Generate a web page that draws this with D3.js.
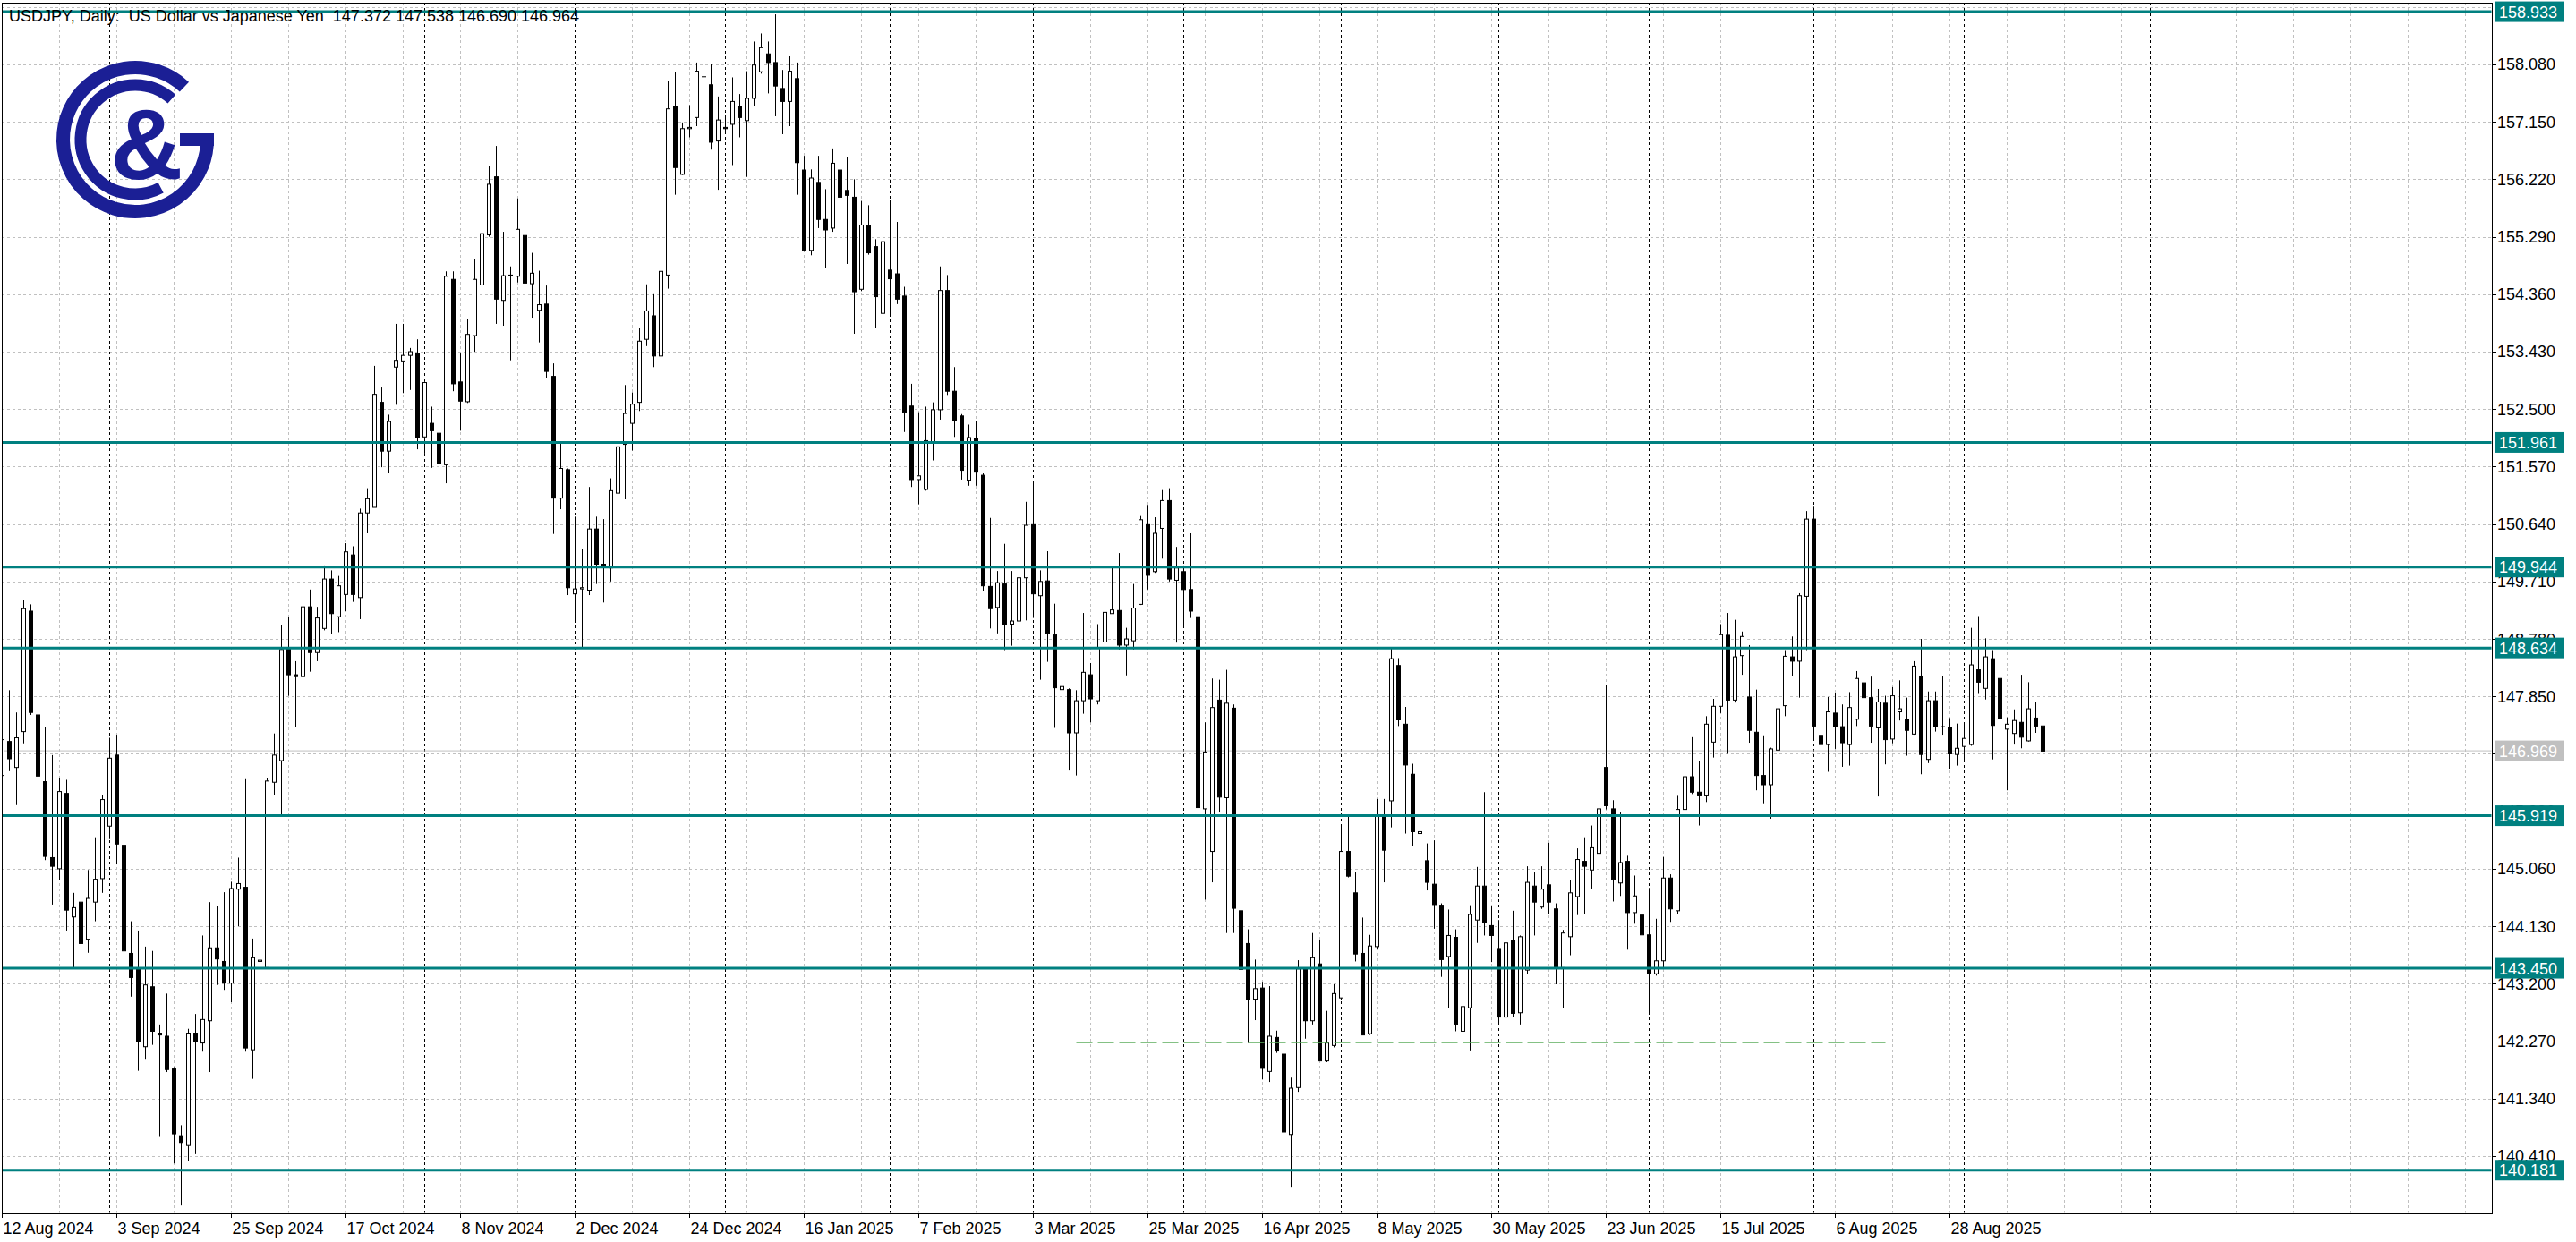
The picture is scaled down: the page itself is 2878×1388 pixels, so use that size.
<!DOCTYPE html>
<html><head><meta charset="utf-8">
<script src="https://cdn.jsdelivr.net/npm/d3@7"></script>
<style>body{margin:0;background:#fff;overflow:hidden}svg{display:block}</style>
</head><body>
<svg id="c" width="2878" height="1388"></svg>
<script>
// ---------- DATA ----------
const opens = [146.57,147.12,146.70,147.28,149.23,147.55,146.47,145.24,145.06,146.28,144.28,144.52,143.92,144.52,144.90,145.75,146.90,145.44,143.69,143.45,142.18,143.15,142.40,142.35,141.82,140.74,140.58,142.40,142.24,142.60,143.78,143.56,143.21,144.73,144.76,142.13,143.56,143.46,146.46,146.81,148.64,148.20,148.17,149.30,148.56,148.95,149.75,149.14,149.50,150.14,149.45,150.82,150.91,152.61,151.82,153.18,153.28,153.37,153.40,152.05,152.27,152.11,151.60,154.60,152.94,152.62,153.69,154.51,155.32,156.26,154.26,154.66,154.65,155.31,154.53,154.10,154.20,153.03,151.06,151.52,149.51,149.59,149.57,150.56,149.99,149.93,151.14,151.93,152.27,152.61,153.63,154.01,153.36,154.67,157.40,156.30,157.04,157.22,157.88,157.75,156.84,157.06,157.11,157.40,157.17,157.53,157.96,158.25,158.11,157.69,157.48,157.85,156.37,155.07,156.17,155.57,155.43,156.37,156.04,155.93,154.44,155.47,155.13,154.05,154.75,154.69,154.33,152.55,151.36,151.20,151.97,152.49,154.42,152.79,152.39,151.35,152.03,151.43,149.63,149.29,149.67,149.02,149.07,149.77,150.63,149.48,149.72,148.85,147.96,147.96,147.26,147.78,148.20,147.78,148.73,149.19,149.24,148.68,148.75,149.34,150.63,149.87,150.57,151.02,149.73,149.87,149.58,149.14,146.03,145.34,147.79,146.21,147.66,144.38,143.85,142.95,143.13,141.78,142.33,142.06,140.76,141.52,143.44,142.60,143.52,141.95,142.20,142.97,145.34,144.67,143.69,142.39,143.80,145.92,146.16,148.35,147.40,146.59,145.63,145.19,144.81,144.47,143.64,143.95,142.43,142.81,144.23,144.78,144.14,143.77,142.66,143.90,142.73,143.42,144.78,144.44,144.80,144.41,143.46,143.96,144.61,145.18,145.04,145.31,146.70,146.03,144.83,145.18,144.35,144.31,143.99,143.36,143.57,144.91,144.38,146.02,146.55,146.30,146.24,147.11,147.69,148.84,147.79,148.51,147.84,147.27,146.57,146.42,146.98,147.70,148.49,148.42,149.47,150.72,147.22,147.07,147.58,147.36,147.07,147.48,148.07,147.83,147.34,147.74,147.16,147.60,147.48,147.24,148.18,146.83,147.78,147.36,147.34,146.91,147.04,147.07,148.28,147.98,148.46,148.14,147.32,147.25,147.43,147.13,147.50,147.372];
const highs = [147.30,147.95,147.59,149.41,149.34,148.06,147.35,146.90,146.53,146.50,144.67,145.18,145.04,145.57,146.26,147.18,147.23,145.57,144.21,144.06,143.80,143.73,142.54,143.04,141.85,140.91,142.47,142.71,143.98,144.52,144.46,144.68,144.85,145.24,146.51,143.93,144.56,146.53,147.25,149.00,149.14,148.42,149.36,149.58,149.30,149.97,149.89,149.80,150.33,150.28,150.89,151.22,153.20,152.85,152.41,153.88,153.88,153.49,153.63,152.95,152.54,152.55,154.73,154.73,153.40,153.96,154.93,155.62,156.44,156.76,155.37,154.81,155.91,155.40,155.03,154.74,154.50,153.24,151.96,151.54,150.76,150.24,151.24,150.76,150.72,151.38,152.20,152.89,152.77,153.82,154.52,154.36,154.87,157.81,157.95,157.14,157.42,158.11,158.11,158.09,157.56,157.22,157.87,157.60,157.97,158.45,158.58,158.45,158.89,157.99,158.21,158.11,156.60,156.38,156.60,156.06,156.72,156.78,156.58,156.22,155.87,155.80,155.25,155.25,155.89,155.53,154.48,152.91,152.45,152.54,152.61,154.81,154.67,153.18,152.42,152.25,152.31,151.46,150.74,149.88,150.32,149.88,150.17,151.00,151.34,149.89,150.20,149.35,148.20,147.98,147.95,149.20,148.39,149.02,149.30,149.94,150.17,148.96,149.67,150.77,150.95,150.75,151.19,151.22,150.27,149.97,150.49,149.29,147.43,148.14,148.12,148.28,147.72,144.59,144.08,143.59,143.23,143.16,142.44,142.11,141.68,143.58,143.44,144.02,143.90,142.76,143.19,145.76,145.90,145.00,144.27,143.99,146.19,146.19,148.64,148.47,147.68,146.76,146.10,145.47,145.52,144.50,144.40,144.08,143.35,144.47,145.09,146.30,144.46,144.23,144.12,144.38,143.98,145.10,145.00,145.10,145.48,144.50,144.07,144.88,145.39,145.57,145.76,146.21,148.04,146.17,145.97,145.27,144.95,144.77,144.75,144.25,145.25,144.97,146.24,146.99,147.19,146.80,147.53,147.81,149.02,149.20,149.09,148.90,148.68,147.96,147.22,147.02,147.96,148.60,148.82,149.52,150.85,150.92,148.10,147.84,147.90,147.72,147.92,148.26,148.53,148.17,147.97,147.86,148.00,148.11,147.83,148.42,148.78,147.93,147.93,148.18,147.50,147.41,147.43,148.96,149.15,148.79,148.60,148.43,147.51,147.64,148.20,148.08,147.76,147.538];
const lows = [146.40,146.64,146.09,147.09,147.55,145.23,145.20,144.48,144.87,144.06,143.45,143.84,143.70,144.21,144.67,145.54,145.13,143.70,142.99,141.79,141.97,142.21,140.72,141.77,140.29,139.61,140.33,140.44,142.10,141.77,143.18,143.10,142.90,144.13,142.10,141.66,142.97,143.46,146.26,145.92,147.86,147.36,148.08,148.25,148.42,148.92,148.86,148.89,149.23,149.38,149.10,150.49,150.91,151.56,151.46,152.57,152.76,152.81,151.85,151.78,151.55,151.35,151.30,152.79,152.15,152.60,153.43,154.37,155.29,153.88,153.85,153.29,154.55,153.92,153.98,153.58,153.01,150.48,150.88,149.49,149.05,148.65,149.49,149.67,149.37,149.71,150.92,151.04,151.83,152.47,153.52,153.18,153.32,154.45,155.97,156.29,156.90,157.08,157.38,156.70,156.05,156.99,156.45,156.90,156.26,157.40,157.93,157.61,157.24,156.95,157.08,155.97,155.05,154.99,155.43,154.79,155.37,155.77,154.85,153.72,154.41,155.00,153.82,153.92,154.01,154.20,152.13,151.24,150.96,151.18,151.67,152.33,152.73,152.05,151.36,151.26,151.26,149.56,148.95,148.87,148.60,148.67,148.75,149.08,149.12,148.12,148.41,147.34,146.96,146.65,146.57,147.57,147.43,147.72,148.26,149.19,148.61,148.19,148.61,149.33,149.58,149.85,150.08,149.71,148.72,148.97,149.12,145.19,144.56,144.84,145.97,144.02,144.02,142.06,142.24,142.61,141.65,141.61,142.08,140.47,139.90,141.45,142.31,142.54,141.95,141.93,142.17,142.93,144.92,143.56,142.37,142.37,143.77,144.84,145.73,147.37,145.63,145.43,144.96,144.71,144.09,143.31,142.81,142.43,142.25,142.12,143.86,143.98,143.55,142.54,142.39,142.66,142.54,143.35,143.98,144.41,144.32,143.19,142.80,143.66,144.31,144.33,144.74,145.13,146.02,144.53,144.62,143.75,144.17,143.83,142.70,143.33,143.46,144.20,144.32,145.87,146.27,145.76,146.14,146.86,147.58,146.92,147.75,148.20,147.10,146.33,146.12,145.87,146.83,147.53,148.18,147.83,148.60,147.16,146.87,146.63,147.00,146.71,146.73,147.37,147.76,147.10,146.23,146.75,147.09,147.46,146.89,147.23,146.59,146.77,147.28,147.23,146.68,146.73,146.80,147.05,147.89,147.80,146.83,147.36,146.33,147.07,147.01,147.12,147.26,146.690];
const closes = [147.15,146.84,147.18,149.27,147.59,146.56,145.26,145.10,146.31,144.39,144.43,143.85,144.58,144.89,146.18,146.85,145.46,143.73,143.30,142.27,143.18,142.43,142.37,141.81,140.77,140.63,142.40,142.27,142.62,143.78,143.60,143.21,144.74,144.82,142.16,143.62,143.58,146.48,146.90,148.61,148.20,148.17,149.30,148.56,149.12,149.75,149.19,149.64,150.19,149.50,150.82,151.05,152.74,151.82,152.30,153.29,153.37,153.43,152.04,152.93,152.15,151.62,154.65,152.91,152.63,153.71,154.60,155.34,156.14,154.28,154.66,154.67,155.41,154.54,154.70,154.19,153.11,151.06,151.54,149.61,149.59,149.61,150.56,149.99,149.97,151.18,151.89,152.43,152.58,153.60,154.09,153.36,154.73,157.36,156.41,157.04,157.06,157.97,157.88,156.82,157.18,157.04,157.48,157.22,157.53,158.07,158.35,158.11,157.73,157.48,157.97,156.49,155.07,156.24,155.57,155.40,156.48,155.93,155.96,154.40,155.48,155.03,154.32,155.21,154.61,154.28,152.45,151.36,151.42,151.99,152.49,154.42,152.79,152.31,151.51,152.04,151.48,149.64,149.27,149.69,149.02,149.07,149.77,150.62,149.51,149.71,148.87,147.99,148.01,147.26,147.78,148.24,147.81,148.64,149.21,149.25,148.68,148.78,149.28,150.71,149.81,150.49,151.02,149.75,149.93,149.58,149.23,146.05,146.95,147.67,146.22,147.74,144.42,143.43,142.94,143.12,141.83,142.35,142.11,140.80,141.51,143.44,142.60,143.62,141.95,142.24,143.04,145.34,144.94,143.68,142.37,143.81,145.93,145.36,148.46,147.47,146.74,145.66,145.66,144.84,144.48,143.59,143.98,142.54,142.83,144.32,144.78,144.19,143.98,142.66,143.86,142.72,143.96,144.84,144.52,144.73,144.52,143.46,144.02,144.67,145.21,145.10,145.40,146.03,146.08,144.89,145.16,144.35,144.62,143.99,143.37,143.57,144.91,144.41,146.02,146.55,146.30,146.24,147.40,147.69,148.85,147.79,148.49,148.82,147.30,146.57,146.42,147.00,147.65,148.50,148.42,149.48,150.72,147.37,147.07,147.60,147.36,147.10,147.67,148.14,147.83,147.37,147.76,147.15,147.86,147.65,147.30,148.34,146.91,147.78,147.36,147.36,146.92,147.01,147.17,148.36,148.08,148.49,147.38,147.49,147.40,147.46,147.19,147.65,147.37,146.964];

const dateLabels = ["12 Aug 2024","3 Sep 2024","25 Sep 2024","17 Oct 2024","8 Nov 2024","2 Dec 2024","24 Dec 2024","16 Jan 2025","7 Feb 2025","3 Mar 2025","25 Mar 2025","16 Apr 2025","8 May 2025","30 May 2025","23 Jun 2025","15 Jul 2025","6 Aug 2025","28 Aug 2025"];
const monthStartBars = [15,36,59,80,101,124,144,165,187,209,230,253,274,300];
const yTickLabels = ["140.410","141.340","142.270","143.200","144.130","145.060","145.990","146.920","147.850","148.780","149.710","150.640","151.570","152.500","153.430","154.360","155.290","156.220","157.150","158.080"];
const topGridLevel = 159.010;
const levels = [158.933,151.961,149.944,148.634,145.919,143.450,140.181];
const lastPrice = 146.969;
const supportPrice = 142.25, supportFrom = 150, supportTo = 263;
const header = "USDJPY, Daily:  US Dollar vs Japanese Yen  147.372 147.538 146.690 146.964";

// ---------- LAYOUT ----------
const L = 2, T = 3, R = 2784, B = 1356;
const TEAL = "#008080", GRID = "#c0c0c0", BLUE = "#1b1f95";
const FONT = "'Liberation Sans', Arial, sans-serif";
const svg = d3.select("#c");
svg.append("rect").attr("width",2878).attr("height",1388).attr("fill","#fff");

const x = d3.scaleLinear().domain([0, 285]).range([2.5, 2282.5]);
const y = d3.scaleLinear().domain([139.482, 159.079]).range([B, T]);
const nBars = opens.length;

svg.append("clipPath").attr("id","plot").append("rect")
  .attr("x",L+0.5).attr("y",T+0.5).attr("width",R-L-1).attr("height",B-T-1);
const plot = svg.append("g").attr("clip-path","url(#plot)");

// horizontal grid
const yTicks = yTickLabels.map(Number);
plot.selectAll(".hg").data(yTicks.concat([topGridLevel])).join("line")
  .attr("x1",L).attr("x2",R)
  .attr("y1",d=>Math.round(y(d))+0.5).attr("y2",d=>Math.round(y(d))+0.5)
  .attr("stroke",GRID).attr("stroke-dasharray","3,3");
// vertical grid every 8 bars
const vGrid = d3.range(8, 345, 8);
plot.selectAll(".vg").data(vGrid).join("line")
  .attr("x1",d=>x(d)).attr("x2",d=>x(d)).attr("y1",T).attr("y2",B)
  .attr("stroke",GRID).attr("stroke-dasharray","3,3");
// period separators
plot.selectAll(".sep").data(monthStartBars).join("line")
  .attr("x1",d=>x(d)).attr("x2",d=>x(d)).attr("y1",T).attr("y2",B)
  .attr("stroke","#000").attr("stroke-dasharray","3,3");

// logo
const logo = plot.append("g").attr("fill","none").attr("stroke",BLUE);
const cx = 151, cy = 156;
function arcPath(r, a0, a1){
  const p0=[cx+r*Math.cos(a0*Math.PI/180), cy+r*Math.sin(a0*Math.PI/180)];
  const p1=[cx+r*Math.cos(a1*Math.PI/180), cy+r*Math.sin(a1*Math.PI/180)];
  const large = ((a1-a0+360)%360)>180?1:0;
  return `M${p0[0]},${p0[1]} A${r},${r} 0 ${large} 1 ${p1[0]},${p1[1]}`;
}
logo.append("path").attr("d",arcPath(80.5, 4, 313)).attr("stroke-width",15);
logo.append("rect").attr("x",cx+50).attr("y",cy-7).attr("width",38).attr("height",14).attr("fill",BLUE).attr("stroke","none");
logo.append("path").attr("d",arcPath(61, 62, 312)).attr("stroke-width",13);
logo.append("text").attr("x",164).attr("y",200).attr("text-anchor","middle")
  .attr("font-family",FONT).attr("font-weight","bold").attr("font-size",112)
  .attr("fill",BLUE).attr("stroke","none").text("&");

// last price line
plot.append("line").attr("x1",L).attr("x2",R)
  .attr("y1",y(lastPrice)).attr("y2",y(lastPrice)).attr("stroke","#c0c0c0");

// candles
const idx = d3.range(nBars);
const cg = plot.append("g");
cg.selectAll(".wick").data(idx).join("line")
  .attr("x1",i=>x(i)).attr("x2",i=>x(i))
  .attr("y1",i=>y(highs[i])).attr("y2",i=>y(lows[i]))
  .attr("stroke","#000");
cg.selectAll(".body").data(idx).join("rect")
  .attr("x",i=>x(i)-2).attr("width",4)
  .attr("y",i=>y(Math.max(opens[i],closes[i])))
  .attr("height",i=>Math.max(0.01,Math.abs(y(opens[i])-y(closes[i]))))
  .attr("fill",i=>closes[i]>=opens[i]?"#fff":"#000")
  .attr("stroke","#000");

// support dashed line
plot.append("line").attr("x1",x(supportFrom)).attr("x2",x(supportTo))
  .attr("y1",y(supportPrice)).attr("y2",y(supportPrice))
  .attr("stroke","#5cad5c").attr("stroke-width",1.5).attr("stroke-dasharray","18,6");

// level lines
plot.selectAll(".lvl").data(levels).join("line")
  .attr("x1",L).attr("x2",R).attr("y1",d=>y(d)).attr("y2",d=>y(d))
  .attr("stroke",TEAL).attr("stroke-width",3);

// frame
svg.append("rect").attr("x",L+0.5).attr("y",T+0.5).attr("width",R-L).attr("height",B-T)
  .attr("fill","none").attr("stroke","#000");

// header
svg.append("text").attr("x",10).attr("y",24).attr("font-family",FONT).attr("font-size",18)
  .style("white-space","pre").attr("xml:space","preserve")
  .attr("fill","#000").text(header);

// right axis
const ra = svg.append("g");
ra.selectAll(".yt").data(yTicks).join("line")
  .attr("x1",R).attr("x2",R+5).attr("y1",d=>Math.round(y(d))+0.5).attr("y2",d=>Math.round(y(d))+0.5).attr("stroke","#000");
ra.selectAll(".yl").data(yTickLabels).join("text")
  .attr("x",R+6).attr("y",d=>y(+d)).attr("dy","0.36em")
  .attr("font-family",FONT).attr("font-size",18).attr("fill","#000").text(d=>d);

// bottom axis
const xLabelBars = dateLabels.map((d,i)=>i*16);
svg.selectAll(".xt").data(xLabelBars).join("line")
  .attr("x1",d=>x(d)).attr("x2",d=>x(d)).attr("y1",B).attr("y2",B+5).attr("stroke","#000");
svg.selectAll(".xl").data(dateLabels).join("text")
  .attr("x",(d,i)=>x(xLabelBars[i])+1).attr("y",B+23)
  .attr("font-family",FONT).attr("font-size",18).attr("fill","#000").text(d=>d);

// price label boxes
function priceBox(v, col){
  const g = svg.append("g");
  g.append("rect").attr("x",R+3).attr("y",y(v)-11.5).attr("width",78).attr("height",23).attr("fill",col);
  g.append("text").attr("x",R+8).attr("y",y(v)).attr("dy","0.36em")
   .attr("font-family",FONT).attr("font-size",18).attr("fill","#fff").text(v.toFixed(3));
}
priceBox(lastPrice, "#c0c0c0");
levels.forEach(v=>priceBox(v, TEAL));
</script>
</body></html>
